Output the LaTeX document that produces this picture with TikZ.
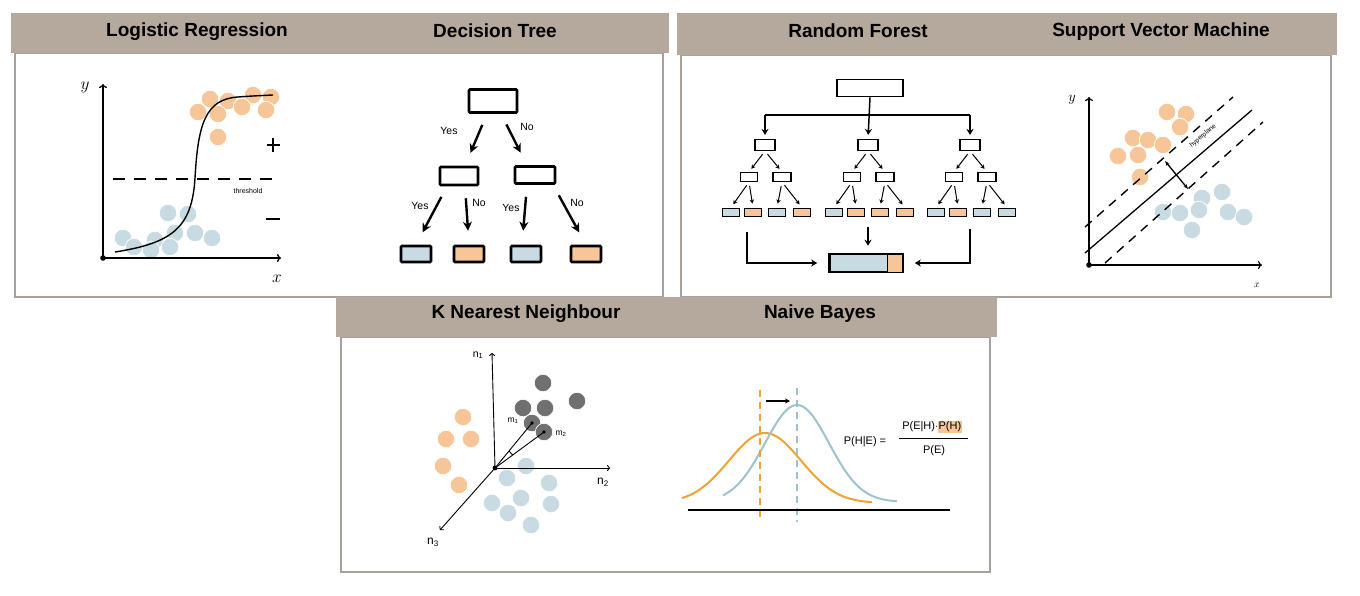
\documentclass[tikz,border=0pt]{standalone}
\usepackage{fontspec}
\setmainfont{Liberation Sans}
\setsansfont{Liberation Sans}
\usetikzlibrary{arrows.meta}

\definecolor{hdrcol}{RGB}{181,168,157}
\definecolor{frmcol}{RGB}{168,160,154}
\definecolor{orgdot}{RGB}{247,198,152}
\definecolor{bludot}{RGB}{200,219,227}
\definecolor{grydot}{RGB}{112,112,112}
\definecolor{nborg}{RGB}{240,163,50}
\definecolor{nbblu}{RGB}{158,195,206}

\begin{document}
\begin{tikzpicture}[x=1pt, y=-1pt, >=Stealth,
    hdr/.style={fill=hdrcol},
    frm/.style={draw=frmcol, fill=white, line width=1.6pt},
    ttl/.style={font=\bfseries\fontsize{19}{22}\selectfont},
    hand/.style={font=\fontsize{10.5}{12}\selectfont, inner sep=0pt},
    dot/.style={circle, draw=white, line width=0.7pt, minimum size=17.5pt, inner sep=0pt},
    odot/.style={dot, fill=orgdot},
    bdot/.style={dot, fill=bludot},
    gdot/.style={dot, fill=grydot},
    axis/.style={line width=1.4pt, -{To[length=4pt, width=8pt]}},
    thinaxis/.style={line width=0.9pt, -{To[length=3pt, width=6pt]}},
    dtbox/.style={draw, line width=2.6pt, rounded corners=1pt, inner sep=0pt},
    dtarr/.style={line width=2.4pt, -{Stealth[length=9pt, width=9pt]}, shorten <=12pt, shorten >=14pt},
    rfbox/.style={draw, line width=1.1pt, minimum width=20pt, minimum height=11pt, inner sep=0pt},
    rfleaf/.style={draw, line width=1pt, minimum width=17pt, minimum height=8pt, inner sep=0pt},
    rfarr/.style={line width=1pt, -{Stealth[length=4pt, width=4.5pt]}, shorten <=4pt, shorten >=4pt},
    rfarrb/.style={line width=1.5pt, -{Stealth[length=6pt, width=7pt]}},
  ]
  \useasboundingbox (0,0) rectangle (1360,595);

  % Panel A: logistic regression and decision tree
  \draw[frm] (15,53) rectangle (663,297);
  \fill[hdr] (11,13) rectangle (669,53);
  \node[ttl] (tlr) at (197,32) {Logistic Regression};
  \node[ttl] (tdt) at (495,31) {Decision Tree};

  % Panel B: random forest and SVM
  \draw[frm] (681,55) rectangle (1331,297);
  \fill[hdr] (677,13) rectangle (1337,55);
  \node[ttl] (trf) at (858,31) {Random Forest};
  \node[ttl] (tsvm) at (1161,32) {Support Vector Machine};

  % Panel C: KNN and naive Bayes
  \draw[frm] (341,337) rectangle (990,572);
  \fill[hdr] (336,297) rectangle (997,337);
  \node[ttl] (tknn) at (526,314) {K Nearest Neighbour};
  \node[ttl] (tnb) at (820,314) {Naive Bayes};

  % ---------------- Logistic regression
  \foreach \p [count=\i] in {(210,99),(228,101),(253,95),(271,97),(242,107),(198,112),(218,114),(266,110),(218,137)}
    \node[odot] (lrorg\i) at \p {};
  \foreach \p [count=\i] in {(168,213),(188,214),(123,238),(155,240),(175,233),(195,233),(212,238),(134,247),(151,250),(170,247)}
    \node[bdot] (lrblu\i) at \p {};
  \coordinate (lro) at (103,258);
  \coordinate (lry) at (103,84);
  \coordinate (lrx) at (281,258);
  \draw[axis] (lro) -- (lry);
  \draw[axis] (lro) -- (lrx);
  \fill (lro) circle (2.8);
  \node[font=\fontsize{17}{17}\selectfont] (lrylab) at (85,87) {$y$};
  \node[font=\fontsize{17}{17}\selectfont] (lrxlab) at (277,279) {$x$};
  \draw[line width=1.4pt, dash pattern=on 12pt off 9pt] (113,179) -- (278,179);
  \node[hand, font=\fontsize{7}{8}\selectfont] (lrthr) at (248,191) {threshold};
  \draw[line width=1.6pt] (267,145) -- (280,145) (273,138) -- (273,152);
  \node[inner sep=0pt] (lrplus) at (273,145) {};
  \draw[line width=1.6pt] (266,219) -- (280,219);
  \node[inner sep=0pt] (lrminus) at (273,219) {};
  \draw[line width=1.4pt] (115,252) .. controls (172,243) and (192,228) .. (195,178)
    .. controls (198,125) and (205,99) .. (238,97) .. controls (252,96) .. (273,95);

  % ---------------- Decision tree
  \node[dtbox, minimum width=48pt, minimum height=23pt] (dtroot) at (493,101) {};
  \node[dtbox, minimum width=38pt, minimum height=18pt] (dtl) at (459,176) {};
  \node[dtbox, minimum width=40pt, minimum height=17pt] (dtr) at (535,175) {};
  \node[dtbox, fill=bludot, minimum width=30pt, minimum height=16pt] (dtleaf1) at (416,254) {};
  \node[dtbox, fill=orgdot, minimum width=30pt, minimum height=16pt] (dtleaf2) at (469,254) {};
  \node[dtbox, fill=bludot, minimum width=30pt, minimum height=16pt] (dtleaf3) at (526,254) {};
  \node[dtbox, fill=orgdot, minimum width=30pt, minimum height=16pt] (dtleaf4) at (586,254) {};
  \draw[dtarr] ([xshift=-6pt]dtroot.south) -- ([xshift=6pt]dtl.north);
  \draw[dtarr] ([xshift=8pt]dtroot.south) -- ([xshift=-8pt]dtr.north);
  \draw[dtarr] ([xshift=-12pt]dtl.south) -- (dtleaf1.north);
  \draw[dtarr] ([xshift=6pt]dtl.south) -- (dtleaf2.north);
  \draw[dtarr] ([xshift=-8pt]dtr.south) -- ([xshift=-4pt]dtleaf3.north);
  \draw[dtarr] ([xshift=18pt]dtr.south) -- (dtleaf4.north);
  \node[hand] (dty1) at (449,131) {Yes};
  \node[hand] (dtn1) at (527,127) {No};
  \node[hand] (dty2) at (420,206) {Yes};
  \node[hand] (dtn2) at (479,203) {No};
  \node[hand] (dty3) at (511,208) {Yes};
  \node[hand] (dtn3) at (577,203) {No};

  % ---------------- Random forest
  \node[rfbox, minimum width=66pt, minimum height=17pt, line width=1.6pt] (rfroot) at (870,88) {};
  \foreach \t/\cx/\ca/\cb/\cc/\cd in {1/765/bludot/orgdot/bludot/orgdot,
                                      2/868/bludot/orgdot/orgdot/orgdot,
                                      3/970/bludot/orgdot/bludot/bludot} {
    \node[rfbox] (rf\t) at (\cx,145) {};
    \node[rfbox, minimum width=17pt, minimum height=9pt] (rf\t-a) at ({\cx-16},177) {};
    \node[rfbox, minimum width=18pt, minimum height=9pt] (rf\t-b) at ({\cx+17},177) {};
    \node[rfleaf, fill=\ca] (rf\t-1) at ({\cx-34},212) {};
    \node[rfleaf, fill=\cb] (rf\t-2) at ({\cx-12},212) {};
    \node[rfleaf, fill=\cc] (rf\t-3) at ({\cx+12},212) {};
    \node[rfleaf, fill=\cd] (rf\t-4) at ({\cx+37},212) {};
    \draw[rfarr] (rf\t.south) -- (rf\t-a.north);
    \draw[rfarr] (rf\t.south) -- (rf\t-b.north);
    \draw[rfarr] (rf\t-a.south) -- (rf\t-1.north);
    \draw[rfarr] (rf\t-a.south) -- (rf\t-2.north);
    \draw[rfarr] (rf\t-b.south) -- (rf\t-3.north);
    \draw[rfarr] (rf\t-b.south) -- (rf\t-4.north);
  }
  \coordinate (rfbar) at (870,115);
  \draw[line width=1.5pt] (rfbar -| rf1) -- (rfbar -| rf3);
  \draw[rfarrb, shorten >=4pt] (rfbar -| rf1) -- (rf1.north);
  \draw[rfarrb, shorten >=4pt] (rfroot.south) -- (rf2.north);
  \draw[rfarrb, shorten >=4pt] (rfbar -| rf3) -- (rf3.north);
  \node[draw, line width=1.6pt, fill=bludot, minimum width=72pt, minimum height=17pt, inner sep=0pt] (rfres) at (866,263) {};
  \fill[orgdot] ([xshift=-15pt]rfres.north east) rectangle (rfres.south east);
  \draw[line width=1.6pt] (rfres.north west) rectangle (rfres.south east);
  \draw[line width=1pt] ([xshift=-15pt]rfres.north east) -- ([xshift=-15pt]rfres.south east);
  \coordinate (rfb1) at (747,232);
  \coordinate (rfb2) at (868,227);
  \coordinate (rfb3) at (970,229);
  \draw[rfarrb, shorten >=12pt] (rfb1) |- (rfres.west);
  \draw[rfarrb, shorten >=8pt] (rfb2) -- (rfb2 |- rfres.north);
  \draw[rfarrb, shorten >=12pt] (rfb3) |- (rfres.east);

  % ---------------- Support vector machine
  \foreach \p [count=\i] in {(1167,112),(1186,114),(1180,127),(1133,138),(1148,140),(1163,145),(1118,156),(1138,155),(1140,177)}
    \node[odot] (svorg\i) at \p {};
  \foreach \p [count=\i] in {(1222,192),(1202,198),(1163,212),(1180,213),(1199,210),(1228,212),(1244,217),(1192,230)}
    \node[bdot] (svblu\i) at \p {};
  \coordinate (svo) at (1089,265);
  \coordinate (svy) at (1089,97);
  \coordinate (svx) at (1262,265);
  \draw[axis, line width=1.2pt] (svo) -- (svy);
  \draw[axis, line width=1.2pt] (svo) -- (svx);
  \fill (svo) circle (2.8);
  \node[font=\fontsize{14}{14}\selectfont] (svylab) at (1072,100) {$y$};
  \node[font=\fontsize{10}{10}\selectfont] (svxlab) at (1257,285) {$x$};
  \coordinate (svh1) at (1085,253);
  \coordinate (svh2) at (1252,110);
  \coordinate (svu1) at (1085,227);
  \coordinate (svu2) at (1233,97);
  \coordinate (svd1) at (1105,263);
  \coordinate (svd2) at (1263,122);
  \draw[line width=1.3pt] (svh1) -- (svh2);
  \draw[line width=1.4pt, dash pattern=on 9pt off 7pt] (svu1) -- (svu2);
  \draw[line width=1.4pt, dash pattern=on 9pt off 7pt] (svd1) -- (svd2);
  \node[hand, rotate=41, font=\fontsize{6.5}{7}\selectfont] (svhyp) at (1203,136) {hyperplane};
  \coordinate (svm1) at (1165,161);
  \coordinate (svm2) at (1188,189);
  \draw[line width=1.3pt, {Stealth[length=5pt]}-{Stealth[length=5pt]}] (svm1) -- (svm2);

  % ---------------- K nearest neighbour
  \foreach \p [count=\i] in {(463,417),(446,439),(471,439),(443,466),(459,485)}
    \node[odot] (knorg\i) at \p {};
  \foreach \p [count=\i] in {(526,466),(507,478),(549,483),(492,503),(521,498),(551,504),(508,513),(531,525)}
    \node[bdot] (knblu\i) at \p {};
  \foreach \p [count=\i] in {(543,383),(577,401),(523,408),(545,408),(532,423),(544,432)}
    \node[gdot] (kngry\i) at \p {};
  \coordinate (kno) at (495,468);
  \coordinate (knn1) at (492,353);
  \coordinate (knn2) at (610,468);
  \coordinate (knn3) at (440,530);
  \draw[thinaxis] (kno) -- (knn1);
  \draw[thinaxis] (kno) -- (knn2);
  \draw[thinaxis] (kno) -- (knn3);
  \fill (kno) circle (2.4);
  \draw[line width=0.9pt] (kno) -- (kngry5.center);
  \draw[line width=0.9pt] (kno) -- (kngry6.center);
  \fill (kngry5.center) circle (1.9);
  \fill (kngry6.center) circle (1.9);
  \draw[line width=0.9pt] (kno) ++(-36:22) arc (-36:-51:22);
  \node[hand, font=\fontsize{8.5}{9}\selectfont] (knm1) at (513,421) {m\textsubscript{1}};
  \node[hand, font=\fontsize{8.5}{9}\selectfont] (knm2) at (561,434) {m\textsubscript{2}};
  \node[hand] (knl1) at (478,355) {n\textsubscript{1}};
  \node[hand, font=\fontsize{12}{13}\selectfont] (knl2) at (603,482) {n\textsubscript{2}};
  \node[hand, font=\fontsize{12}{13}\selectfont] (knl3) at (433,542) {n\textsubscript{3}};

  % ---------------- Naive Bayes
  \draw[nborg, line width=2pt] plot[domain=682:872, samples=80, smooth] (\x, {503-70*exp(-((\x-765)/36)^2/2)});
  \draw[nbblu, line width=2pt] plot[domain=723:897, samples=80, smooth] (\x, {502-97*exp(-((\x-797)/32)^2/2)});
  \coordinate (nbo1) at (760,390);
  \coordinate (nbo2) at (760,522);
  \coordinate (nbb1) at (797,388);
  \coordinate (nbb2) at (797,522);
  \draw[nborg, line width=1.1pt, dash pattern=on 7pt off 5pt] (nbo1) -- (nbo2);
  \draw[nbblu, line width=1.1pt, dash pattern=on 7pt off 5pt] (nbb1) -- (nbb2);
  \coordinate (nbl) at (688,510);
  \coordinate (nbr) at (950,510);
  \draw[line width=2.4pt] (nbl) -- (nbr);
  \coordinate (nba1) at (766,401);
  \coordinate (nba2) at (790,401);
  \draw[line width=1.3pt, -{Stealth[length=5pt, width=5pt]}] (nba1) -- (nba2);
  \node[hand, font=\fontsize{11}{12}\selectfont] (nblhs) at (865,442) {P(H|E) =};
  \node[hand, font=\fontsize{11}{12}\selectfont] (nbnum) at (932,427)
    {P(E|H)$\cdot$\setlength{\fboxsep}{0.5pt}\colorbox{orgdot}{P(H)}};
  \node[hand, font=\fontsize{11}{12}\selectfont] (nbden) at (934,451) {P(E)};
  \draw[line width=1pt] (899,438) -- (968,438);
\end{tikzpicture}
\end{document}
